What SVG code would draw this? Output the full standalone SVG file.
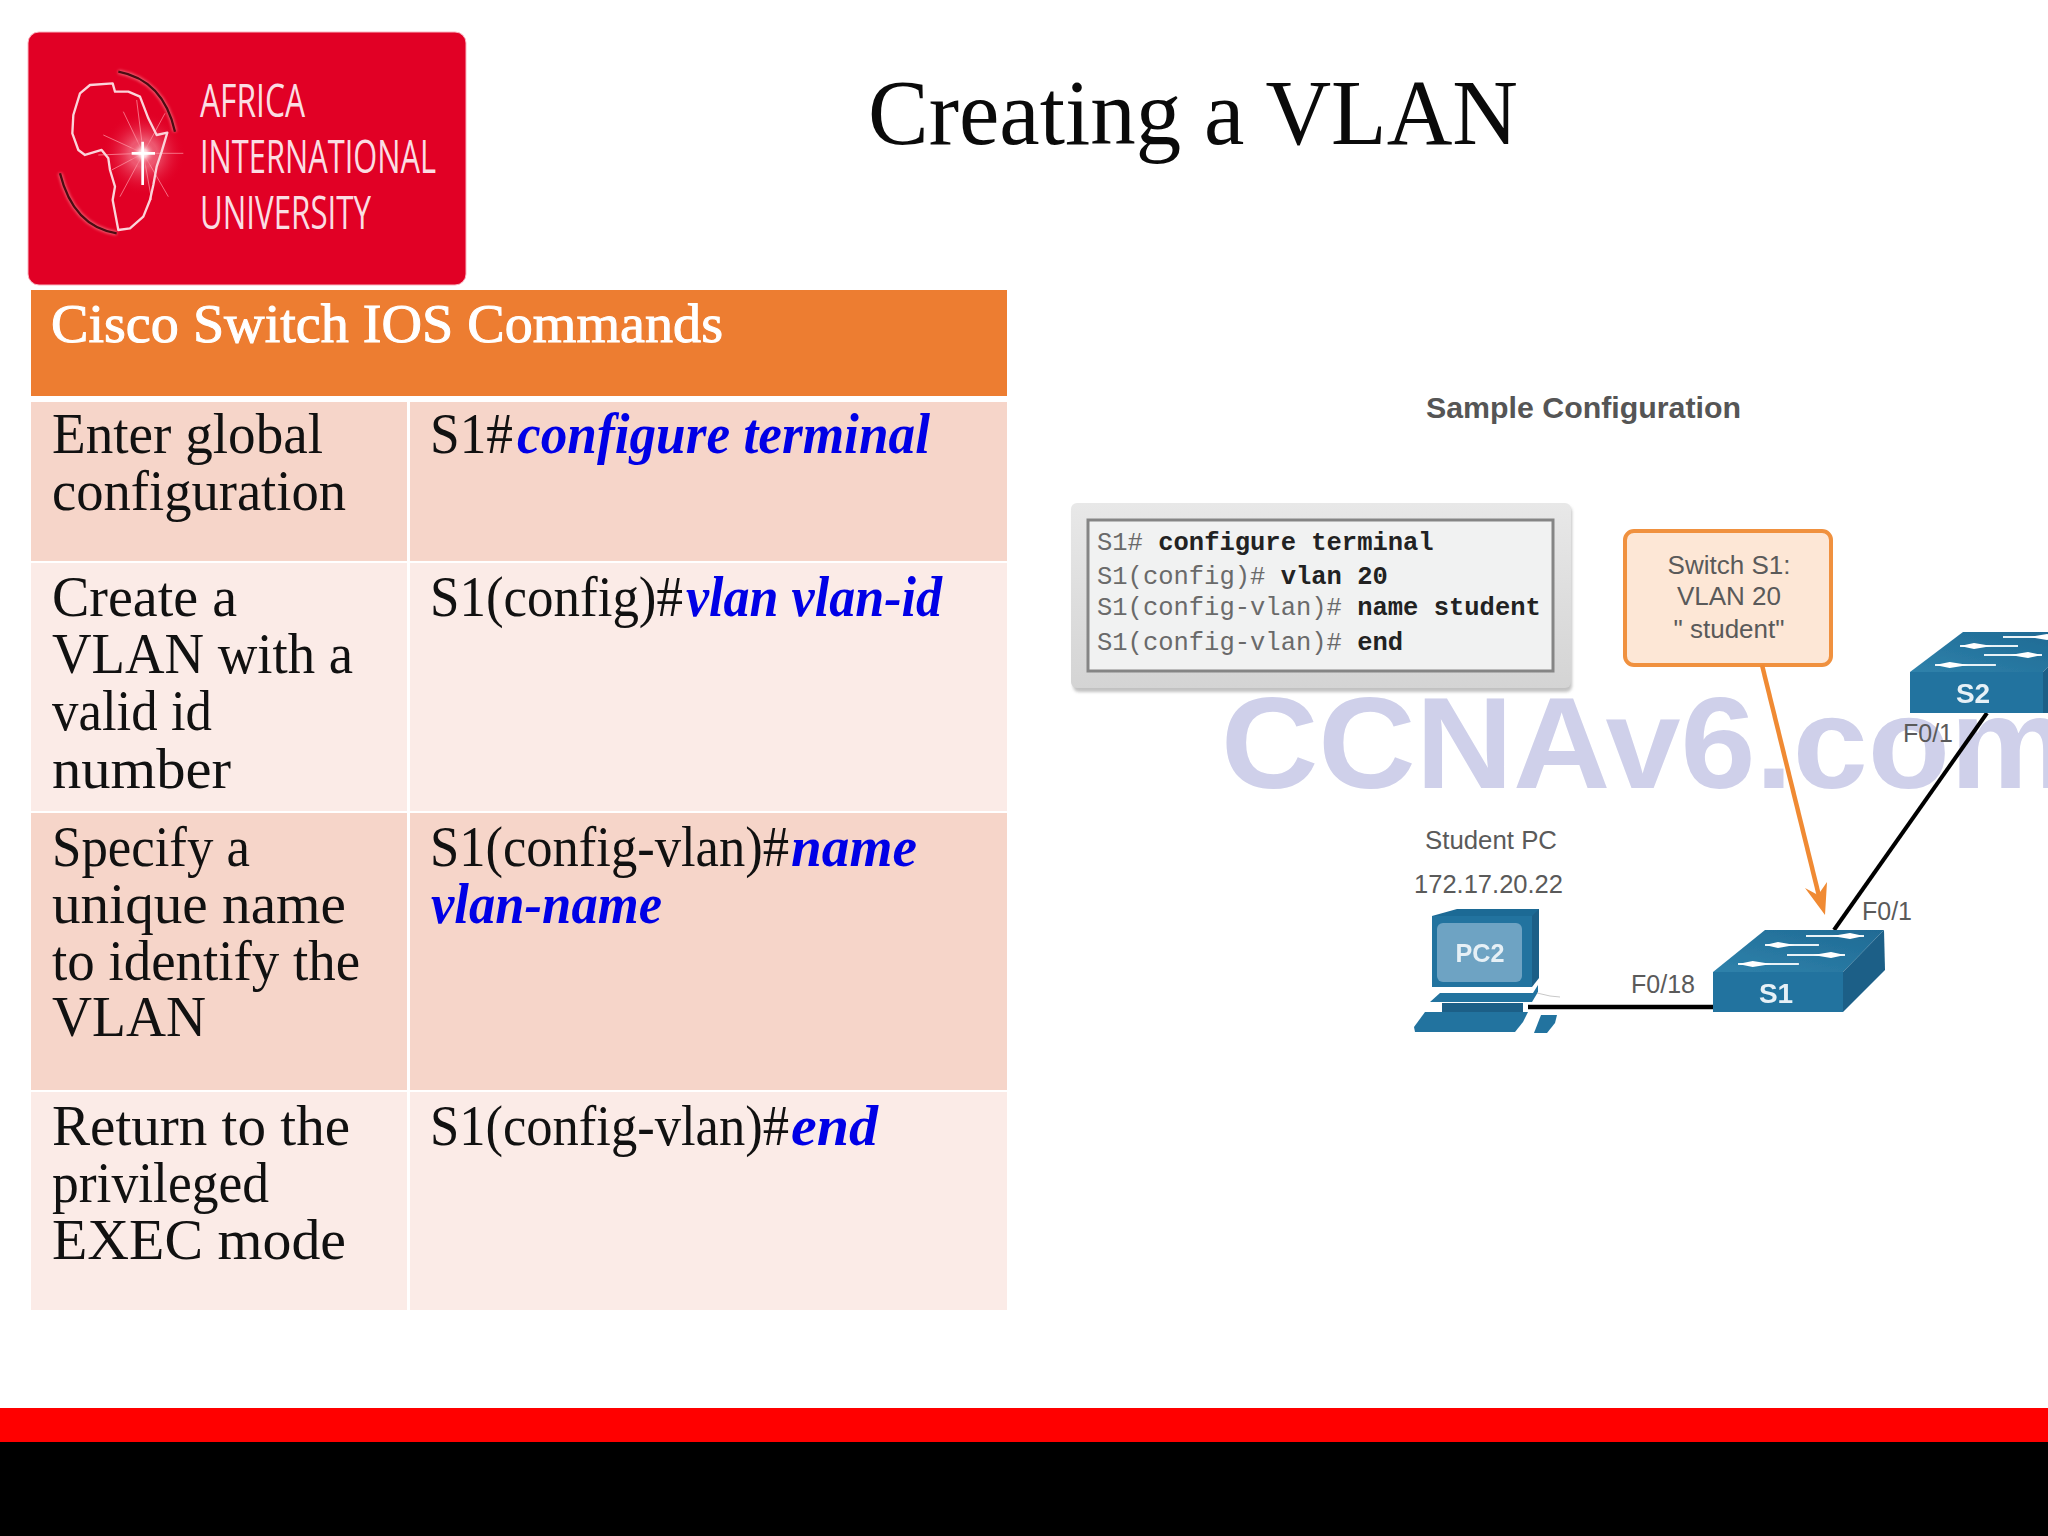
<svg xmlns="http://www.w3.org/2000/svg" width="2048" height="1536" viewBox="0 0 2048 1536">
<style>
text{font-family:"Liberation Serif","Times New Roman",serif}
.t{font-size:56px;fill:#111}
.c{font-size:56px;fill:#0000e6;font-style:italic;font-weight:bold}
.s{font-family:"Liberation Sans",Arial,sans-serif;fill:#5a5a5a;font-size:26px}
.m{font-family:"Liberation Mono","Courier New",monospace;font-size:25.5px;fill:#6a6a6a}
.mb{font-weight:bold;fill:#222}
.l{font-family:"Open Sans","Liberation Sans",sans-serif;font-size:46px;fill:#fbdde3}
.icon{font-family:"Liberation Sans",Arial,sans-serif;font-weight:bold;fill:#e6f0f6;font-size:28px}
.a{fill:#f6d5c9}.b{fill:#fbebe7}
.top{fill:url(#topg)}.front{fill:#22739f}.side{fill:#1b5f87}.dk{fill:#1f6a95}
.ln{stroke:#e8f2f7;stroke-width:2;fill:none}
.hd{fill:#fff}
</style>
<defs>
<radialGradient id="glow"><stop offset="0" stop-color="#fff"/><stop offset=".3" stop-color="#ffd5dc" stop-opacity=".9"/><stop offset="1" stop-color="#e10025" stop-opacity="0"/></radialGradient>
<linearGradient id="shade" x1="0" y1="0" x2="0" y2="1"><stop offset="0" stop-color="#e8e8e8"/><stop offset="1" stop-color="#d4d4d4"/></linearGradient>
<linearGradient id="topg" x1="0" y1="1" x2="1" y2="0"><stop offset="0" stop-color="#2f82ab"/><stop offset="1" stop-color="#1f6a94"/></linearGradient>
<filter id="soft" x="-5%" y="-5%" width="110%" height="110%"><feGaussianBlur stdDeviation="0.7"/></filter>
<filter id="sh" x="-5%" y="-5%" width="110%" height="110%"><feGaussianBlur stdDeviation="1.5"/></filter>
<filter id="bl" x="-20%" y="-20%" width="140%" height="140%"><feGaussianBlur stdDeviation="4"/></filter>
<g id="sw-l"><path class="ln" d="M0 0H58"/><path class="hd" d="M0 0L14 -3L32 0L14 3Z"/></g>
<g id="sw-r"><path class="ln" d="M0 0H58"/><path class="hd" d="M58 0L44 -3L26 0L44 3Z"/></g>
</defs>
<rect width="2048" height="1536" fill="#fff"/>

<g id="logo">
<rect x="28" y="32" width="438" height="253" rx="11" fill="#e10025" stroke="#f9b6c2" stroke-width="1"/>
<g transform="translate(40 60) scale(.3333)">
<circle cx="310" cy="280" r="125" fill="url(#glow)" opacity=".5"/>
<g stroke="#ff9aa8" stroke-width="3" opacity=".7" fill="none"><path d="M310 280L190 225M310 280L215 330M310 280L430 280M310 280L375 160M310 280L250 155M310 280L240 410M310 280L385 410M310 280L175 285M310 280L290 120M310 280L335 420"/></g>
<circle cx="310" cy="280" r="42" fill="url(#glow)"/>
<path d="M308 245V375M275 280H345" stroke="#fff" stroke-width="8" fill="none"/>
<path d="M235 35Q370 60 405 215" fill="none" stroke="#fbb" stroke-width="12" opacity=".55" filter="url(#bl)"/>
<path d="M60 340Q100 500 230 520" fill="none" stroke="#fbb" stroke-width="12" opacity=".55" filter="url(#bl)"/>
<path d="M235 35Q370 60 405 215" fill="none" stroke="#4a0c12" stroke-width="7"/>
<path d="M60 340Q100 500 230 520" fill="none" stroke="#4a0c12" stroke-width="7"/>
<path d="M218 70L150 75L120 100L100 165L97 220L115 270L135 285L185 270L205 295L210 330L225 380L218 420L235 510L270 505L310 470L330 420L340 375L350 320L365 275L382 218L350 225L325 175L300 110L265 95L225 95Z" fill="none" stroke="#fbd4da" stroke-width="7" stroke-linejoin="round"/>
</g>
<text class="l" x="200" y="117" textLength="105" lengthAdjust="spacingAndGlyphs">AFRICA</text>
<text class="l" x="200" y="173" textLength="236" lengthAdjust="spacingAndGlyphs">INTERNATIONAL</text>
<text class="l" x="200" y="229" textLength="171" lengthAdjust="spacingAndGlyphs">UNIVERSITY</text>
</g>

<text id="title" x="868" y="144" font-size="93" fill="#0a0a0a" textLength="650" lengthAdjust="spacingAndGlyphs">Creating a VLAN</text>

<g id="table">
<rect x="31" y="290" width="976" height="106" fill="#ed7d31"/>
<text x="51" y="342" font-size="55" fill="#fff" stroke="#fff" stroke-width="1" textLength="672" lengthAdjust="spacingAndGlyphs">Cisco Switch IOS Commands</text>
<rect class="a" x="31" y="402" width="376" height="159"/><rect class="a" x="410" y="402" width="597" height="159"/>
<rect class="b" x="31" y="563" width="376" height="248"/><rect class="b" x="410" y="563" width="597" height="248"/>
<rect class="a" x="31" y="813" width="376" height="277"/><rect class="a" x="410" y="813" width="597" height="277"/>
<rect class="b" x="31" y="1092" width="376" height="218"/><rect class="b" x="410" y="1092" width="597" height="218"/>
<text class="t" x="52" y="453" textLength="271" lengthAdjust="spacingAndGlyphs">Enter global</text>
<text class="t" x="52" y="510" textLength="294" lengthAdjust="spacingAndGlyphs">configuration</text>
<text class="t" x="52" y="616" textLength="185" lengthAdjust="spacingAndGlyphs">Create a</text>
<text class="t" x="52" y="673" textLength="301" lengthAdjust="spacingAndGlyphs">VLAN with a</text>
<text class="t" x="52" y="730" textLength="160" lengthAdjust="spacingAndGlyphs">valid id</text>
<text class="t" x="52" y="788" textLength="179" lengthAdjust="spacingAndGlyphs">number</text>
<text class="t" x="52" y="866" textLength="198" lengthAdjust="spacingAndGlyphs">Specify a</text>
<text class="t" x="52" y="923" textLength="294" lengthAdjust="spacingAndGlyphs">unique name</text>
<text class="t" x="52" y="980" textLength="308" lengthAdjust="spacingAndGlyphs">to identify the</text>
<text class="t" x="52" y="1036" textLength="154" lengthAdjust="spacingAndGlyphs">VLAN</text>
<text class="t" x="52" y="1145" textLength="298" lengthAdjust="spacingAndGlyphs">Return to the</text>
<text class="t" x="52" y="1202" textLength="217" lengthAdjust="spacingAndGlyphs">privileged</text>
<text class="t" x="52" y="1259" textLength="294" lengthAdjust="spacingAndGlyphs">EXEC mode</text>
<text class="t" x="430" y="453" textLength="83" lengthAdjust="spacingAndGlyphs">S1#</text>
<text class="c" x="517" y="453" textLength="413" lengthAdjust="spacingAndGlyphs">configure terminal</text>
<text class="t" x="430" y="616" textLength="253" lengthAdjust="spacingAndGlyphs">S1(config)#</text>
<text class="c" x="686" y="616" textLength="256" lengthAdjust="spacingAndGlyphs">vlan vlan-id</text>
<text class="t" x="430" y="866" textLength="359" lengthAdjust="spacingAndGlyphs">S1(config-vlan)#</text>
<text class="c" x="791" y="866" textLength="126" lengthAdjust="spacingAndGlyphs">name</text>
<text class="c" x="431" y="923" textLength="231" lengthAdjust="spacingAndGlyphs">vlan-name</text>
<text class="t" x="430" y="1145" textLength="359" lengthAdjust="spacingAndGlyphs">S1(config-vlan)#</text>
<text class="c" x="791" y="1145" textLength="87" lengthAdjust="spacingAndGlyphs">end</text>
</g>

<text id="sample-title" class="s" x="1426" y="418" style="font-size:30px;font-weight:bold;fill:#555" textLength="315" lengthAdjust="spacingAndGlyphs">Sample Configuration</text>

<text id="watermark" x="1221" y="788" textLength="849" lengthAdjust="spacingAndGlyphs" style="font-family:'Liberation Sans',Arial,sans-serif;font-weight:bold;font-size:130px;fill:#cfd0ea">CCNAv6.com</text>

<g id="terminal">
<rect x="1073" y="506" width="499" height="186" rx="6" fill="#999" opacity=".6" filter="url(#sh)"/>
<rect x="1071" y="503" width="500" height="185" rx="6" fill="url(#shade)"/>
<rect x="1088" y="520" width="465" height="151" fill="#f1f2f2" stroke="#858585" stroke-width="3"/>
<text class="m" x="1097" y="550">S1# <tspan class="mb">configure terminal</tspan></text>
<text class="m" x="1097" y="584">S1(config)# <tspan class="mb">vlan 20</tspan></text>
<text class="m" x="1097" y="615">S1(config-vlan)# <tspan class="mb">name student</tspan></text>
<text class="m" x="1097" y="650">S1(config-vlan)# <tspan class="mb">end</tspan></text>
</g>

<g id="callout">
<rect x="1625" y="531" width="206" height="134" rx="9" fill="#fde7d6" stroke="#f0913f" stroke-width="4"/>
<g text-anchor="middle"><text class="s" x="1729" y="574">Switch S1:</text><text class="s" x="1729" y="605">VLAN 20</text><text class="s" x="1729" y="638">" student"</text></g>
</g>

<g id="connectors" fill="none">
<path d="M1528 1007H1713" stroke="#000" stroke-width="4.5"/>
<path d="M1834 930L1987 713" stroke="#000" stroke-width="4"/>
<path d="M1762 665L1820 900" stroke="#f08a33" stroke-width="4.5"/>
<path d="M1825 915L1805 888L1818 895L1827 882Z" fill="#f08a33"/>
</g>

<g id="pc2" filter="url(#soft)">
<path class="dk" d="M1432 916L1457 909H1539V916H1432Z"/>
<rect class="front" x="1432" y="916" width="100" height="71"/>
<path class="side" d="M1532 916L1539 909V978L1532 987Z"/>
<rect x="1437" y="923" width="85" height="59" rx="6" fill="#6ea3c3"/>
<path class="front" d="M1440 993H1533L1538 985V992L1532 1002H1430Z"/>
<rect class="side" x="1442" y="1003" width="81" height="10"/>
<path class="front" d="M1425 1012H1528L1523 1022L1515 1032H1415L1414 1027Z"/>
<path class="front" d="M1541 1015H1557L1555 1023L1547 1033H1534Z"/>
<path d="M1537 993L1550 996L1560 997" stroke="#c8c8c8" stroke-width="1" fill="none"/>
<text class="icon" x="1480" y="962" text-anchor="middle" textLength="49" lengthAdjust="spacingAndGlyphs" style="font-size:26px">PC2</text>
</g>

<g id="s1" filter="url(#soft)">
<path class="top" d="M1713 972L1765 930H1884L1843 972Z"/>
<path class="side" d="M1843 972L1884 930L1885 970L1843 1012Z"/>
<rect class="front" x="1713" y="972" width="130" height="40"/>
<use href="#sw-r" transform="translate(1806 936)"/>
<use href="#sw-l" transform="translate(1765 945) scale(.93 1)"/>
<use href="#sw-r" transform="translate(1787 955)"/>
<use href="#sw-l" transform="translate(1738 964) scale(1.05 1)"/>
<text class="icon" x="1776" y="1003" text-anchor="middle">S1</text>
</g>

<g id="s2" filter="url(#soft)">
<path class="top" d="M1910 672L1963 632H2048V667L2043 672Z"/>
<path class="side" d="M2043 672L2048 667V713H2043Z"/>
<rect class="front" x="1910" y="672" width="133" height="41"/>
<use href="#sw-r" transform="translate(2003 637)"/>
<use href="#sw-l" transform="translate(1960 646)"/>
<use href="#sw-r" transform="translate(1984 655)"/>
<use href="#sw-l" transform="translate(1935 665) scale(1.05 1)"/>
<text class="icon" x="1973" y="703" text-anchor="middle">S2</text>
</g>

<g id="labels">
<text class="s" x="1425" y="849" textLength="132" lengthAdjust="spacingAndGlyphs">Student PC</text>
<text class="s" x="1414" y="893" textLength="149" lengthAdjust="spacingAndGlyphs">172.17.20.22</text>
<text class="s" x="1631" y="993" textLength="64" lengthAdjust="spacingAndGlyphs">F0/18</text>
<text class="s" x="1862" y="920" textLength="50" lengthAdjust="spacingAndGlyphs">F0/1</text>
<text class="s" x="1903" y="742" textLength="50" lengthAdjust="spacingAndGlyphs">F0/1</text>
</g>

<g id="footer">
<rect x="0" y="1408" width="2048" height="34" fill="#ff0000"/>
<rect x="0" y="1442" width="2048" height="94" fill="#000"/>
</g>
</svg>
